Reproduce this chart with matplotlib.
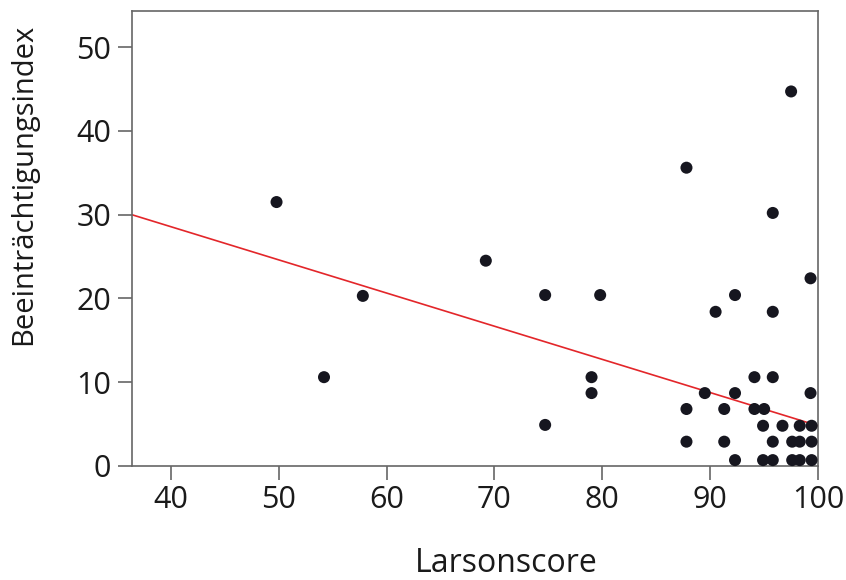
import matplotlib
matplotlib.use("Agg")
import matplotlib.pyplot as plt

# Werte
larson = [
    49.8, 54.2, 57.8, 69.2, 74.7, 74.7, 79.8, 79.0, 79.0, 87.8, 97.5, 95.8, 99.3,
    92.3,
    90.5, 95.8,
    94.1, 95.8,
    89.5, 92.3, 99.3,
    87.8, 91.3, 94.1, 95.0,
    94.9, 96.7, 98.3, 99.4,
    87.8, 91.3, 95.8, 97.6, 98.3, 99.4,
    92.3, 94.9, 95.8, 97.6, 98.3, 99.4,
]
index = [
    31.5, 10.6, 20.3, 24.5, 20.4, 4.9, 20.4, 10.6, 8.7, 35.6, 44.7, 30.2, 22.4,
    20.4,
    18.4, 18.4,
    10.6, 10.6,
    8.7, 8.7, 8.7,
    6.8, 6.8, 6.8, 6.8,
    4.8, 4.8, 4.8, 4.8,
    2.9, 2.9, 2.9, 2.9, 2.9, 2.9,
    0.7, 0.7, 0.7, 0.7, 0.7, 0.7,
]

# Regressionsgerade
fit_intercept = 44.4
fit_slope = -0.396

x_ticks = [40, 50, 60, 70, 80, 90, 100]
y_ticks = [0, 10, 20, 30, 40, 50]
x_range = (36.4, 100)
y_range = (0, 54.3)

plt.rcParams["font.family"] = ["Open Sans", "DejaVu Sans"]

fig = plt.figure(figsize=(8.46, 5.8), dpi=100)
ax = fig.add_axes([0.156, 0.1966, 0.811, 0.7844])

ax.scatter(larson, index, s=75, color="#16161f", edgecolors="none",
           zorder=3, clip_on=False)

line_x = list(x_range)
line_y = [fit_intercept + fit_slope * v for v in line_x]
ax.plot(line_x, line_y, color="#e3262a", linewidth=1.2, zorder=2)

ax.set_xlim(*x_range)
ax.set_ylim(*y_range)
ax.set_xticks(x_ticks)
ax.set_yticks(y_ticks)

for side in ["left", "bottom", "top", "right"]:
    ax.spines[side].set_color("#666666")
    ax.spines[side].set_linewidth(1.2)

ax.tick_params(axis="both", direction="out", length=10, width=1.2,
               color="#666666", labelsize=22, labelcolor="#1a1a1a")
ax.tick_params(axis="y", pad=5)
ax.tick_params(axis="x", pad=4)

ax.set_xlabel("Larsonscore", fontsize=23, color="#1a1a1a")
ax.set_ylabel("Beeinträchtigungsindex", fontsize=21, color="#1a1a1a")
ax.xaxis.set_label_coords(0.545, -0.178)
ax.yaxis.set_label_coords(-0.137, 0.62)

fig.savefig("out.png", dpi=100, facecolor="white")
